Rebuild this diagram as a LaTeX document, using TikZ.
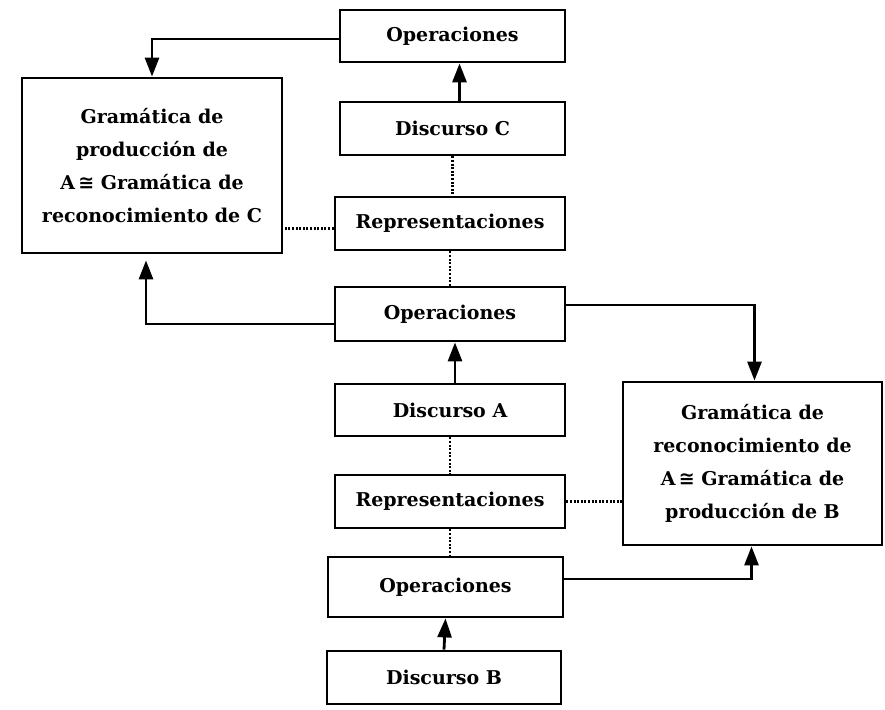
\documentclass[tikz,border=0pt]{standalone}
\usepackage{fontspec}
\setmainfont{DejaVu Serif}
\newfontfamily\symfont{DejaVu Sans}
\usetikzlibrary{arrows.meta}
\begin{document}
\begin{tikzpicture}[x=1pt,y=-1pt,
  box/.style={draw,line width=2.8pt,inner sep=0pt,align=center,
    font=\fontsize{19}{33}\selectfont\bfseries},
  arr/.style={line width=2.8pt,-{Triangle[length=19pt,width=14pt]}},
  dots/.style={line width=2.4pt,dash pattern=on 2pt off 1.6pt}]
\useasboundingbox (0,0) rectangle (885,709);
\node[box,minimum width=225pt,minimum height=52pt] (op1) at (452.5,36) {Operaciones};
\node[box,minimum width=225pt,minimum height=53pt] (dc) at (452.5,128.5) {Discurso C};
\node[box,minimum width=230pt,minimum height=53pt] (rep1) at (450,223.5) {Representaciones};
\node[box,minimum width=230pt,minimum height=54pt] (op2) at (450,314) {Operaciones};
\node[box,minimum width=230pt,minimum height=52pt] (da) at (450,410) {Discurso A};
\node[box,minimum width=230pt,minimum height=53pt] (rep2) at (450,501.5) {Representaciones};
\node[box,minimum width=235pt,minimum height=60pt] (op3) at (445.5,587) {Operaciones};
\node[box,minimum width=234pt,minimum height=53pt] (db) at (444,677.5) {Discurso B};
\node[box,minimum width=260pt,minimum height=175pt] (gl) at (152,165.5)
  {Gramática de\\producción de\\A\,{\symfont ≅} Gramática de\\reconocimiento de C};
\node[box,minimum width=259pt,minimum height=163pt] (gr) at (752.5,463.5)
  {Gramática de\\reconocimiento de\\A\,{\symfont ≅} Gramática de\\producción de B};
% solid arrows
\draw[arr] ([yshift=-3pt]op1.west) -| (gl.north);
\draw[arr,shorten >=6pt] ([yshift=-10pt]op2.west) -| ([xshift=-6pt]gl.south);
\draw[arr] ([yshift=9pt]op2.east) -| ([xshift=2pt]gr.north);
\draw[arr] ([yshift=8pt]op3.east) -| ([xshift=-1pt]gr.south);
\draw[arr] ([xshift=7pt]dc.north) -- ([xshift=7pt]op1.south);
\draw[arr] ([xshift=5pt]da.north) -- ([xshift=5pt]op2.south);
\draw[arr] ([xshift=0pt]db.north) -- ([xshift=0pt]op3.south);
% dotted links
\draw[dots] (dc.south) -- (dc.south |- rep1.north);
\draw[dots] (rep1.south) -- (rep1.south |- op2.north);
\draw[dots] (da.south) -- (da.south |- rep2.north);
\draw[dots] (rep2.south) -- (rep2.south |- op3.north);
\draw[dots] ([yshift=-5pt]rep1.west) -- ([yshift=-5pt]rep1.west -| gl.east);
\draw[dots] (rep2.east) -- (rep2.east -| gr.west);
\end{tikzpicture}
\end{document}
